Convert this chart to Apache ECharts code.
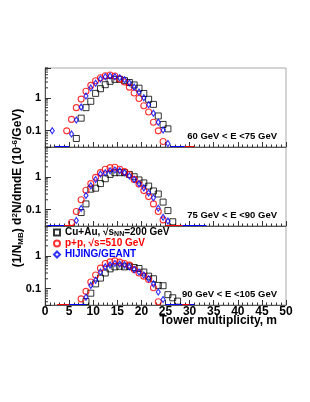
<!DOCTYPE html>
<html><head><meta charset="utf-8">
<script src="https://cdn.jsdelivr.net/npm/echarts@6/dist/echarts.min.js"></script>
<style>html,body{margin:0;padding:0;background:#fff}#c{width:310px;height:402px}</style>
</head><body><div id="c"></div>
<script>
// ---- data (m = tower multiplicity bin centre, value in 10^-6/GeV) ----
const panelLabels = ['60 GeV < E <75 GeV', '75 GeV < E <90 GeV', '90 GeV < E <105 GeV'];
const xTickLabels = [0, 5, 10, 15, 20, 25, 30, 35, 40, 45, 50];
const yTickLabels = [0.1, 1];
const yMinorTicks = [0.04,0.05,0.06,0.07,0.08,0.09,0.2,0.3,0.4,0.5,0.6,0.7,0.8,0.9,2,3,4,5,6,7,8];

// 60 < E < 75 GeV
const cuauM60 = [6.5,7.5,8.5,9.5,10.5,11.5,12.5,13.5,14.5,15.5,16.5,17.5,18.5,19.5,20.5,21.5,22.5,23.5,24.5,25.5];
const cuauV60 = [0.058,0.24,0.50,0.78,1.36,1.88,2.49,3.15,3.63,3.63,3.3,2.9,2.45,1.95,1.35,0.9,0.63,0.28,0.155,0.114];
const ppM60 = [4.5,5.5,6.5,7.5,8.5,9.5,10.5,11.5,12.5,13.5,14.5,15.5,16.5,17.5,18.5,19.5,20.5,21.5,22.5,23.5,24.5];
const ppV60 = [0.099,0.22,0.50,0.91,1.57,2.38,3.29,4.05,4.67,4.9,4.57,3.7,3.0,2.1,1.4,0.95,0.57,0.37,0.18,0.099,0.047];
const hiM60 = [1.5,5.5,6.5,7.5,8.5,9.5,10.5,11.5,12.5,13.5,14.5,15.5,16.5,17.5,18.5,19.5,20.5,21.5,22.5,23.5,24.5,25.5];
const hiV60 = [0.10,0.079,0.21,0.52,1.13,1.97,2.74,3.7,4.35,4.57,4.35,4.05,3.5,2.8,2.1,1.5,1.0,0.61,0.34,0.18,0.105,0.041];

// 75 < E < 90 GeV
const cuauM75 = [7.5,8.5,9.5,10.5,11.5,12.5,13.5,14.5,15.5,16.5,17.5,18.5,19.5,20.5,21.5,22.5,23.5,24.5,25.5,26.5];
const cuauV75 = [0.082,0.15,0.42,0.45,0.62,0.87,1.18,1.33,1.33,1.33,1.18,1.0,0.8,0.65,0.52,0.37,0.30,0.17,0.094,0.043];
const ppM75 = [5.5,6.5,7.5,8.5,9.5,10.5,11.5,12.5,13.5,14.5,15.5,16.5,17.5,18.5,19.5,20.5,21.5,22.5,23.5,24.5];
const ppV75 = [0.041,0.088,0.20,0.39,0.62,0.96,1.33,1.69,1.89,1.95,1.69,1.43,1.15,0.83,0.6,0.38,0.25,0.15,0.088,0.049];
const hiM75 = [6.5,7.5,8.5,9.5,10.5,11.5,12.5,13.5,14.5,15.5,16.5,17.5,18.5,19.5,20.5,21.5,22.5,23.5,24.5,25.5];
const hiV75 = [0.047,0.109,0.27,0.53,0.83,1.21,1.33,1.53,1.6,1.53,1.33,1.05,0.83,0.62,0.46,0.32,0.23,0.11,0.059,0.045];

// 90 < E < 105 GeV
const cuauM90 = [8.5,9.5,10.5,11.5,12.5,13.5,14.5,15.5,16.5,17.5,18.5,19.5,20.5,21.5,22.5,23.5,24.5,25.5,26.5,27.5];
const cuauV90 = [0.041,0.073,0.14,0.21,0.30,0.40,0.46,0.48,0.46,0.48,0.44,0.41,0.32,0.24,0.2,0.126,0.123,0.066,0.053,0.042];
const ppM90 = [7.5,8.5,9.5,10.5,11.5,12.5,13.5,14.5,15.5,16.5,17.5,18.5,19.5,20.5,21.5,22.5,23.5];
const ppV90 = [0.049,0.083,0.16,0.26,0.42,0.58,0.65,0.70,0.64,0.58,0.52,0.38,0.30,0.24,0.19,0.107,0.04];
const hiM90 = [8.5,9.5,10.5,11.5,12.5,13.5,14.5,15.5,16.5,17.5,18.5,19.5,20.5,21.5,22.5,23.5,24.5];
const hiV90 = [0.055,0.126,0.18,0.32,0.46,0.52,0.58,0.56,0.53,0.46,0.38,0.32,0.26,0.2,0.14,0.079,0.047];

// empty bins drawn along the lower edge: [from m, to m]
const hiEmpty60 = [[2,5],[26,29]];
const ppEmpty60 = [[29,31]];
const hiEmpty75 = [[0.5,4.5],[28.5,33.5]];
const ppEmpty75 = [[4,6],[25,28.5]];
const hiEmpty90 = [[5,8.5],[25,31]];
const ppEmpty90 = [[2.5,5],[28.5,30]];

// ---- chart ----
const FONT = 'Liberation Sans';
const YMIN = 0.032, YMAX = 8;
const grids = [
  {left:45, right:24, top:68, height:79},
  {left:45, right:24, top:147, height:79},
  {left:45, right:24, top:226, height:79}
];
const zip = (m, v) => m.map((x, i) => [x, v[i]]);
const panels = [
  {cu:zip(cuauM60,cuauV60), pp:zip(ppM60,ppV60), hi:zip(hiM60,hiV60), hiE:hiEmpty60, ppE:ppEmpty60},
  {cu:zip(cuauM75,cuauV75), pp:zip(ppM75,ppV75), hi:zip(hiM75,hiV75), hiE:hiEmpty75, ppE:ppEmpty75},
  {cu:zip(cuauM90,cuauV90), pp:zip(ppM90,ppV90), hi:zip(hiM90,hiV90), hiE:hiEmpty90, ppE:ppEmpty90}
];

const xAxes = grids.map((g, i) => ({
  type:'value', gridIndex:i, min:0, max:50, interval:5,
  axisLine:{show:true, lineStyle:{color:'#555', width:1}},
  axisTick:{show:true, inside:true, length:5, lineStyle:{color:'#333'}},
  minorTick:{show:true, splitNumber:5, length:2.5, lineStyle:{color:'#333'}},
  splitLine:{show:false},
  axisLabel:{show:i===2, color:'#000', fontFamily:FONT, fontWeight:'bold', fontSize:12, margin:1,
    formatter: v => xTickLabels.indexOf(v) >= 0 ? String(v) : ''}
}));
const yAxes = grids.map((g, i) => ({
  type:'log', gridIndex:i, min:YMIN, max:YMAX, logBase:10,
  axisLine:{show:true, lineStyle:{color:'#555', width:1}},
  axisTick:{show:true, inside:true, length:6, lineStyle:{color:'#333'}},
  minorTick:{show:false},
  splitLine:{show:false},
  axisLabel:{show:true, color:'#000', fontFamily:FONT, fontWeight:'bold', fontSize:11, margin:4,
    formatter: v => {
      const k = yTickLabels.find(t => Math.abs(t - v) < 1e-9);
      return k !== undefined ? String(k) : '';
    }}
}));

const series = [];
panels.forEach((p, i) => {
  series.push({name:'cuau', type:'scatter', xAxisIndex:i, yAxisIndex:i, data:p.cu, symbol:'rect', symbolSize:6,
    itemStyle:{color:'rgba(0,0,0,0)', borderColor:'#000', borderWidth:1}, z:3});
  series.push({name:'pp', type:'scatter', xAxisIndex:i, yAxisIndex:i, data:p.pp, symbol:'circle', symbolSize:6,
    itemStyle:{color:'rgba(0,0,0,0)', borderColor:'#ff0000', borderWidth:1.1}, z:4});
  series.push({name:'hi', type:'scatter', xAxisIndex:i, yAxisIndex:i, data:p.hi, symbol:'diamond', symbolSize:[4,6],
    itemStyle:{color:'rgba(0,0,0,0)', borderColor:'#0000ff', borderWidth:1.2}, z:5});
  const seg = (col) => ({
    type:'custom', xAxisIndex:i, yAxisIndex:i, silent:true, z:6, clip:false,
    renderItem:(params, api) => {
      const a = api.coord([api.value(0), YMIN]);
      const b = api.coord([api.value(1), YMIN]);
      return {type:'line', shape:{x1:a[0], y1:a[1]-0.5, x2:b[0], y2:b[1]-0.5}, style:{stroke:col, lineWidth:1}};
    }
  });
  series.push(Object.assign(seg('#0000ff'), {data:p.hiE}));
  series.push(Object.assign(seg('#ff0000'), {data:p.ppE}));
  series.push({
    type:'custom', xAxisIndex:i, yAxisIndex:i, silent:true, z:2, clip:false,
    data:yMinorTicks.map(v => [0, v]),
    renderItem:(params, api) => {
      const a = api.coord([0, api.value(1)]);
      return {type:'line', shape:{x1:a[0], y1:a[1], x2:a[0]+3, y2:a[1]}, style:{stroke:'#333', lineWidth:1}};
    }
  });
});

const bold = {fontFamily:FONT, fontWeight:'bold'};
const graphic = [
  // panel labels
  ...panelLabels.map((t, i) => ({type:'text', right:33, top:[131, 210, 289][i],
    style:Object.assign({text:t, fontSize:9.5, fill:'#000'}, bold)})),
  // y title
  {type:'text', x:18, y:188, rotation:Math.PI/2,
    style:Object.assign({
      text:'(1/N{sub|MB}) d{sup|2}N/dmdE (10{sup|-6}/GeV)',
      fontSize:12, fill:'#000', align:'center', verticalAlign:'middle',
      rich:{sub:Object.assign({fontSize:8, padding:[6,0,0,0]}, bold), sup:Object.assign({fontSize:8, padding:[0,0,6,0]}, bold)}
    }, bold)},
  // x title
  {type:'text', right:33, top:315,
    style:Object.assign({text:'Tower multiplicity, m', fontSize:12, fill:'#000'}, bold)}
];

const chart = echarts.init(document.getElementById('c'), null, {renderer:'canvas'});
chart.setOption({
  animation:false,
  backgroundColor:'#fff',
  grid:grids.map(g => Object.assign({show:true, borderColor:'#aaa', borderWidth:1, backgroundColor:'transparent'}, g)),
  xAxis:xAxes, yAxis:yAxes, series:series, graphic:graphic,
  legend:{
    left:48, top:222, orient:'vertical', itemWidth:6, itemHeight:6, itemGap:0,
    data:[
      {name:'cuau', textStyle:{color:'#000'}},
      {name:'pp', textStyle:{color:'#ff0000'}},
      {name:'hi', textStyle:{color:'#0000ff'}}
    ],
    textStyle:{fontFamily:FONT, fontWeight:'bold', fontSize:10, lineHeight:11, padding:[0,0,0,0],
      rich:{sub:{fontFamily:FONT, fontWeight:'bold', fontSize:7, lineHeight:11, padding:[4,0,0,0]}}},
    formatter: n => n === 'cuau' ? 'Cu+Au, \u221As{sub|NN}=200 GeV' : n === 'pp' ? 'p+p, \u221As=510 GeV' : 'HIJING/GEANT'
  }
});
</script></body></html>
